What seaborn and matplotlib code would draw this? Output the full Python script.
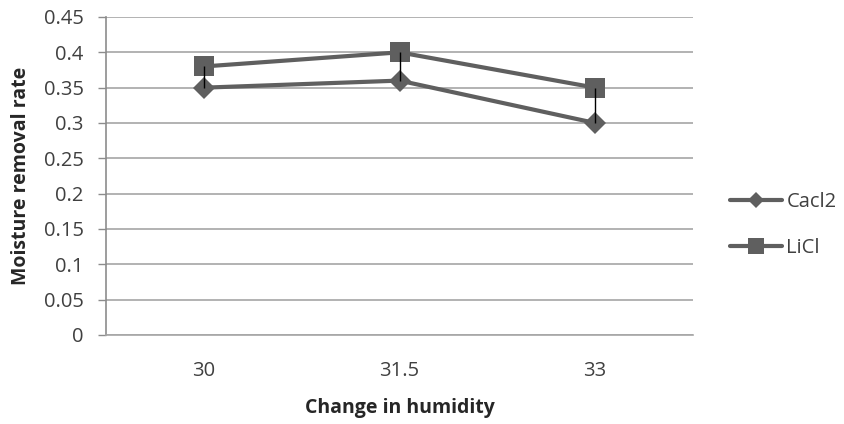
import matplotlib
matplotlib.use("Agg")
import matplotlib.pyplot as plt
import seaborn as sns
import pandas as pd

humidity = ["30", "31.5", "33"]
cacl2 = [0.35, 0.36, 0.30]
licl = [0.38, 0.40, 0.35]
y_ticks = [0, 0.05, 0.1, 0.15, 0.2, 0.25, 0.3, 0.35, 0.4, 0.45]

sns.set_theme(style="white")
plt.rcParams["font.family"] = ["Open Sans", "DejaVu Sans"]

df = pd.DataFrame({
    "humidity": humidity * 2,
    "rate": cacl2 + licl,
    "salt": ["Cacl2"] * 3 + ["LiCl"] * 3,
})

fig = plt.figure(figsize=(8.44, 4.24), dpi=100)
ax = fig.add_axes([106 / 844, 89 / 424, 587 / 844, 318 / 424])

line_col = "#5f5f5f"
text_col = "#404040"
sns.lineplot(
    data=df, x="humidity", y="rate", hue="salt", style="salt",
    markers={"Cacl2": "D", "LiCl": "s"}, dashes=False,
    palette={"Cacl2": line_col, "LiCl": line_col},
    linewidth=3.0, markeredgewidth=0, ax=ax, sort=False, legend=True,
)
for ln in ax.lines:
    if ln.get_marker() == "s":
        ln.set_markersize(14.5)
    else:
        ln.set_markersize(11)

# high-low connectors between the two series
xs = list(range(len(humidity)))
ax.vlines(xs, cacl2, licl, colors="black", linewidth=1.0, zorder=5)

ax.set_xlim(-0.5, len(humidity) - 0.5)
ax.set_ylim(0, 0.45)
ax.set_yticks(y_ticks)
ax.set_yticklabels([f"{t:g}" for t in y_ticks])
ax.yaxis.grid(True, color="#a6a6a6", linewidth=1.2)
ax.set_axisbelow(True)

for side in ["top", "right"]:
    ax.spines[side].set_visible(False)
ax.spines["left"].set_color("#8c8c8c")
ax.spines["bottom"].set_color("#a6a6a6")
ax.spines["left"].set_linewidth(1.2)
ax.spines["bottom"].set_linewidth(1.2)

ax.tick_params(axis="y", which="both", left=True, length=6, width=1.0,
               color="#8c8c8c", labelsize=14.5, labelcolor=text_col, pad=10)
ax.tick_params(axis="x", bottom=False, labelsize=14.5, labelcolor=text_col, pad=13)

ax.set_xlabel("Change in humidity", fontsize=14, fontweight="bold", labelpad=12)
ax.set_ylabel("Moisture removal rate", fontsize=14, fontweight="bold", labelpad=9)

leg = ax.legend(
    loc="center left", bbox_to_anchor=(730 / 844, 0.47),
    bbox_transform=fig.transFigure, frameon=False, borderpad=0, borderaxespad=0,
    fontsize=14.5, handlelength=2.6, labelspacing=1.3, handletextpad=0.2,
)
for h in leg.legend_handles:
    h.set_linewidth(3.0)
    h.set_markersize(11 if h.get_marker() == "s" else 8)
for t in leg.get_texts():
    t.set_color(text_col)

fig.savefig("out.png", dpi=100)
